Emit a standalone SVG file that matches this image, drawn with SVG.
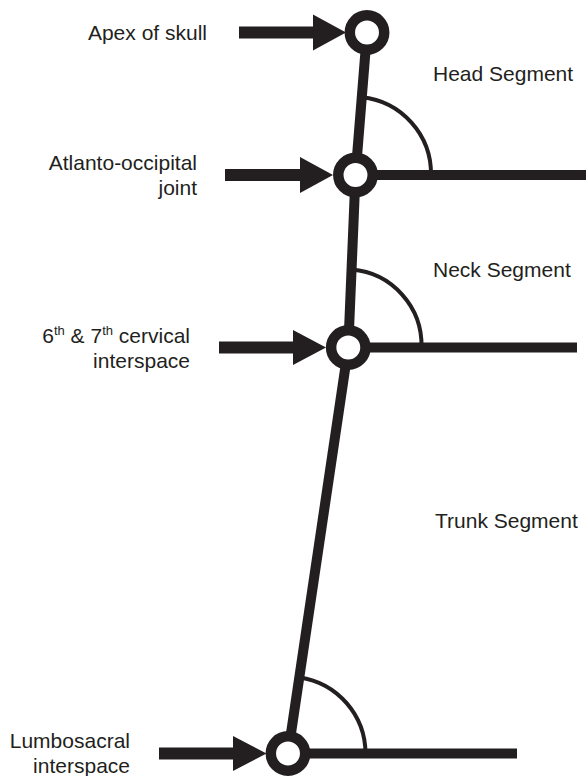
<svg xmlns="http://www.w3.org/2000/svg" width="587" height="776" viewBox="0 0 587 776">
<defs>
<style>
.lbl{font-family:"Liberation Sans",Arial,sans-serif;font-size:21px;fill:#231f20}
.end{text-anchor:end}
.seg{stroke:#231f20;stroke-width:10;fill:none}
.shaft{stroke:#231f20;stroke-width:12;fill:none}
.head{fill:#231f20}
.arc{stroke:#231f20;stroke-width:4;fill:none}
.node{fill:#fff;stroke:#231f20;stroke-width:10.5}
</style>
</defs>
<rect width="587" height="776" fill="#fff"/>
<g id="connectors">
<line class="seg" x1="367" y1="32.5" x2="355.5" y2="175"/>
<line class="seg" x1="355.5" y1="175" x2="348.3" y2="347.5"/>
<line class="seg" x1="348.3" y1="347.5" x2="288" y2="753.5"/>
<line class="seg" x1="370" y1="175" x2="586" y2="175"/>
<line class="seg" x1="360" y1="347.5" x2="577" y2="347.5"/>
<line class="seg" x1="300" y1="753.5" x2="517" y2="753.5"/>
<path class="arc" d="M361.8 97.3 A77 77 0 0 1 431 175"/>
<path class="arc" d="M351.7 269.6 A76 76 0 0 1 421.5 347.5"/>
<path class="arc" d="M299.4 677.4 A77 77 0 0 1 365.5 753.5"/>
<line class="shaft" x1="239" y1="32.5" x2="315" y2="32.5"/>
<polygon class="head" points="313,14.5 346,32.5 313,50.5"/>
<line class="shaft" x1="225" y1="175" x2="302" y2="175"/>
<polygon class="head" points="300,157 333,175 300,193"/>
<line class="shaft" x1="219" y1="347.5" x2="295" y2="347.5"/>
<polygon class="head" points="293,330 326,347.5 293,365"/>
<line class="shaft" x1="159" y1="753.5" x2="235" y2="753.5"/>
<polygon class="head" points="233,736 266.5,753.5 233,771"/>
</g>
<g id="apex">
<circle class="node" cx="367" cy="32.5" r="17.2"/>
<text class="lbl end" x="207" y="40">Apex of skull</text>
</g>
<g id="atlanto">
<circle class="node" cx="355.5" cy="175" r="17.2"/>
<text class="lbl end" x="197" y="170">Atlanto-occipital</text>
<text class="lbl end" x="197" y="195">joint</text>
</g>
<g id="cervical">
<circle class="node" cx="348.3" cy="347.5" r="17.2"/>
<text class="lbl end" x="190" y="343">6<tspan font-size="13" dy="-8">th</tspan><tspan dy="8"> &amp; 7</tspan><tspan font-size="13" dy="-8">th</tspan><tspan dy="8"> cervical</tspan></text>
<text class="lbl end" x="190" y="368">interspace</text>
</g>
<g id="lumbosacral">
<circle class="node" cx="288" cy="753.5" r="17.2"/>
<text class="lbl end" x="130" y="748">Lumbosacral</text>
<text class="lbl end" x="130" y="773">interspace</text>
</g>
<g id="head-segment">
<text class="lbl" x="433" y="81">Head Segment</text>
</g>
<g id="neck-segment">
<text class="lbl" x="433" y="277">Neck Segment</text>
</g>
<g id="trunk-segment">
<text class="lbl" x="435" y="528">Trunk Segment</text>
</g>
</svg>
